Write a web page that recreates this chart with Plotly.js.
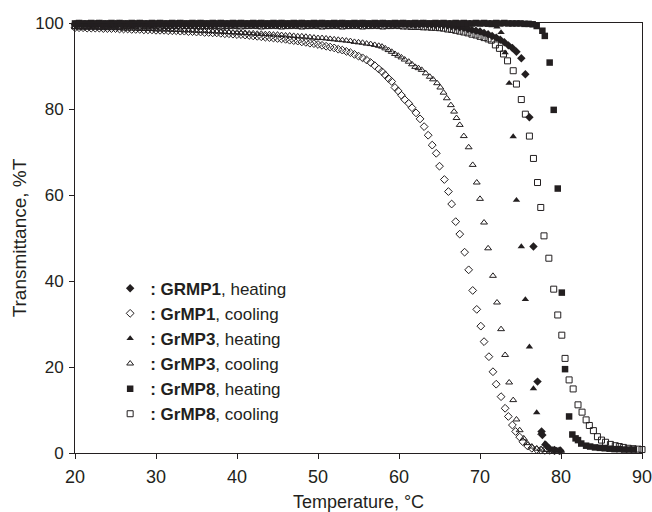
<!DOCTYPE html>
<html>
<head>
<meta charset="utf-8">
<script src="https://cdn.plot.ly/plotly-3.0.1.min.js"></script>
<style>html,body{margin:0;padding:0;background:#fff;}#chart{width:652px;height:512px;}</style>
</head>
<body>
<div id="chart"></div>
<script>
// Shared temperature grid (°C) for the densely sampled plateau region
const gridT = [
20,20.5,21,21.5,22,22.5,23,23.5,24,24.5,
25,25.5,26,26.5,27,27.5,28,28.5,29,29.5,
30,30.5,31,31.5,32,32.5,33,33.5,34,34.5,
35,35.5,36,36.5,37,37.5,38,38.5,39,39.5,
40,40.5,41,41.5,42,42.5,43,43.5,44,44.5,
45,45.5,46,46.5,47,47.5,48,48.5,49,49.5,
50,50.5,51,51.5,52,52.5,53,53.5,54,54.5,
55,55.5,56,56.5,57,57.5,58,58.5,59,59.5,
60,60.5,61,61.5,62,62.5,63,63.5,64,64.5,
65,65.5,66,66.5,67,67.5,68,68.5,69,69.5,
70,70.5,71,71.5,72,72.5,73,73.5,74,74.5,
75,75.5,76];

// GrMP1 heating (filled diamonds)
const gr1HeatPlateauY = [
99.7,99.8,99.7,99.7,99.6,99.7,99.8,99.7,99.7,99.6,
99.7,99.8,99.7,99.7,99.6,99.7,99.8,99.7,99.7,99.6,
99.7,99.8,99.7,99.7,99.6,99.7,99.8,99.7,99.7,99.6,
99.7,99.8,99.7,99.7,99.6,99.7,99.8,99.7,99.7,99.6,
99.7,99.8,99.7,99.7,99.6,99.7,99.8,99.7,99.7,99.6,
99.7,99.8,99.7,99.7,99.6,99.7,99.8,99.7,99.7,99.6,
99.7,99.8,99.7,99.7,99.6,99.7,99.8,99.7,99.7,99.6,
99.7,99.8,99.7,99.7,99.6,99.7,99.8,99.7,99.7,99.6,
99.7,99.8,99.7,99.7,99.6,99.7,99.8,99.7,99.7,99.6,
99.7,99.6,99.5,99.3,99.2,99.0,98.9,98.6,98.4,98.2,
98.0,97.7,97.4,97.0,96.6,96.1,95.5,94.8,94.2];
const gr1HeatTailT = [74.5,75.1,75.6,76.1,76.6,77.1,77.6,77.7,78.1,78.6,79.2,79.9];
const gr1HeatTailY = [93.3,91.8,88.1,78.1,48.0,16.6,5.0,4.2,1.9,1.0,0.7,0.6];

// GrMP1 cooling (open diamonds)
const gr1CoolPlateauY = [
98.9,98.9,98.9,98.8,98.8,98.8,98.8,98.7,98.7,98.7,
98.7,98.6,98.6,98.6,98.5,98.5,98.5,98.4,98.4,98.4,
98.3,98.3,98.3,98.2,98.2,98.2,98.1,98.1,98.0,98.0,
97.9,97.9,97.8,97.8,97.7,97.7,97.6,97.5,97.5,97.4,
97.3,97.3,97.2,97.1,97.0,96.9,96.8,96.7,96.6,96.5,
96.4,96.3,96.2,96.0,95.9,95.8,95.6,95.5,95.3,95.2,
95.0,94.8,94.6,94.4,94.2,93.9,93.7,93.4,93.1,92.7,
92.3,91.9,91.4,90.8,90.1,89.3];
const gr1CoolTailT = [57.9,58.3,58.7,59.1,59.5,59.9,60.3,60.7,61.2,61.6,62.1,62.6,63.1,63.6,64.1,64.6,65.0,65.6,66.1,66.5,67.0,67.5,68.1,68.6,69.1,69.6,70.1,70.5,71.1,71.6,72.0,72.6,73.1,73.5,74.0,74.4,74.9,75.3,75.9,76.4,77.0,77.5,78.0,78.6,79.2,79.8];
const gr1CoolTailY = [88.7,87.9,87.1,86.4,85.0,84.2,83.2,82.2,81.3,80.3,79.1,77.7,75.9,73.9,71.6,69.7,66.7,63.6,60.8,57.9,53.8,50.9,46.7,42.6,37.8,33.4,29.5,25.9,22.4,18.9,16.0,13.1,10.4,8.5,6.5,5.0,3.7,2.6,1.6,1.1,0.8,0.7,0.6,0.6,0.5,0.5];

// GrMP3 heating (filled triangles)
const gr3HeatPlateauY = [
99.6,99.5,99.6,99.6,99.7,99.6,99.5,99.6,99.6,99.7,
99.6,99.5,99.6,99.6,99.7,99.6,99.5,99.6,99.6,99.7,
99.6,99.5,99.6,99.6,99.7,99.6,99.5,99.6,99.6,99.7,
99.6,99.5,99.6,99.6,99.7,99.6,99.5,99.6,99.6,99.7,
99.6,99.5,99.6,99.6,99.7,99.6,99.5,99.6,99.6,99.7,
99.6,99.5,99.6,99.6,99.7,99.6,99.5,99.6,99.6,99.7,
99.6,99.5,99.6,99.6,99.7,99.6,99.5,99.6,99.6,99.7,
99.6,99.5,99.6,99.6,99.7,99.6,99.5,99.6,99.6,99.7,
99.6,99.5,99.6,99.6,99.7,99.6,99.5,99.6,99.6,99.7,
99.6,99.5,99.6,99.6,99.7,99.6,99.5,99.6,99.6,99.7,
99.6,99.6,99.5];
const gr3HeatTailT = [71.5,72.1,72.6,73.1,73.6,74.1,74.5,75.1,75.6,76.1,76.6,77.0,77.5,78.0,78.5,79.0,79.5,80.0];
const gr3HeatTailY = [99.4,99.1,97.8,93.1,86.0,73.6,58.8,48.0,35.7,24.7,15.0,9.4,4.6,2.2,1.3,0.9,0.7,0.6];

// GrMP3 cooling (open triangles)
const gr3CoolPlateauY = [
99.0,99.0,98.9,98.9,98.9,98.9,98.9,98.8,98.8,98.8,
98.8,98.8,98.7,98.7,98.7,98.7,98.6,98.6,98.6,98.6,
98.5,98.5,98.5,98.5,98.4,98.4,98.4,98.3,98.3,98.3,
98.2,98.2,98.2,98.1,98.1,98.0,98.0,97.9,97.9,97.8,
97.8,97.7,97.7,97.6,97.6,97.5,97.5,97.4,97.4,97.3,
97.3,97.2,97.1,97.1,97.0,96.9,96.9,96.8,96.7,96.6,
96.5,96.5,96.4,96.3,96.2,96.1,96.0,95.9,95.8,95.6,
95.5,95.4,95.2,95.1,94.9,94.7];
const gr3CoolTailT = [57.9,58.3,58.7,59.1,59.5,59.9,60.3,60.7,61.2,61.6,62.0,62.4,62.8,63.3,63.8,64.2,64.7,65.1,65.5,65.9,66.4,66.8,67.1,67.5,68.0,68.6,69.1,69.6,70.0,70.5,71.0,71.6,72.1,72.6,73.1,73.6,74.1,74.5,74.9,75.4,75.8,76.4,77.0,77.6,78.2,78.8,79.4,80.0];
const gr3CoolTailY = [94.5,94.1,93.7,93.3,92.8,92.4,92.0,91.5,91.0,90.4,89.8,89.5,89.1,88.3,87.5,86.9,86.0,85.0,83.8,82.5,80.9,79.4,77.9,76.3,73.7,71.1,67.0,62.9,59.1,53.6,47.6,41.2,35.0,28.8,22.8,16.4,12.3,7.8,5.3,3.4,2.3,1.5,1.0,0.8,0.7,0.6,0.6,0.5];

// GrMP8 heating (filled squares)
const gr8HeatPlateauY = [
99.9,100,99.9,99.9,100,99.9,100,99.9,99.9,100,
99.9,100,99.9,99.9,100,99.9,100,99.9,99.9,100,
99.9,100,99.9,99.9,100,99.9,100,99.9,99.9,100,
99.9,100,99.9,99.9,100,99.9,100,99.9,99.9,100,
99.9,100,99.9,99.9,100,99.9,100,99.9,99.9,100,
99.9,100,99.9,99.9,100,99.9,100,99.9,99.9,100,
99.9,100,99.9,99.9,100,99.9,100,99.9,99.9,100,
99.9,100,99.9,99.9,100,99.9,100,99.9,99.9,100,
99.9,100,99.9,99.9,100,99.9,100,99.9,99.9,100,
99.9,100,99.9,99.9,100,99.9,100,99.9,99.9,100,
99.9,100,99.9,99.9,100,99.9,100,99.9,99.9,99.9,
99.9,99.8,99.8];
const gr8HeatTailT = [76.5,77.0,77.7,78.0,78.6,79.1,79.6,80.1,80.5,81.0,81.4,81.8,82.1,82.5,83.1,83.6,84.2,84.8,85.4,86.0,86.6,87.2,87.8,88.4,89.0];
const gr8HeatTailY = [99.7,99.3,98.2,97.0,90.8,79.8,61.5,37.3,19.5,8.5,4.3,3.4,3.0,2.2,1.7,1.5,1.3,1.2,1.1,1.0,0.9,0.9,0.8,0.8,0.8];

// GrMP8 cooling (open squares)
const gr8CoolPlateauY = [
99.4,99.3,99.4,99.4,99.5,99.4,99.3,99.4,99.4,99.5,
99.4,99.3,99.4,99.4,99.5,99.4,99.3,99.4,99.4,99.5,
99.4,99.3,99.4,99.4,99.5,99.4,99.3,99.4,99.4,99.5,
99.4,99.3,99.4,99.4,99.5,99.4,99.3,99.4,99.4,99.5,
99.4,99.3,99.4,99.4,99.5,99.4,99.3,99.4,99.4,99.5,
99.4,99.3,99.4,99.4,99.5,99.4,99.3,99.4,99.4,99.5,
99.4,99.3,99.4,99.4,99.5,99.4,99.3,99.4,99.4,99.5,
99.4,99.3,99.4,99.4,99.5,99.4,99.3,99.4,99.4,99.5,
99.4,99.3,99.3,99.2,99.2,99.2,99.1,99.1,99.0,
99.0,98.9,98.8,98.6,98.5,98.3,98.1,97.9,97.7,97.4,97.2,96.9,96.6,96.3];
const gr8CoolTailT = [71.4,71.9,72.4,72.9,73.4,74.1,74.5,75.1,75.6,76.1,76.6,77.1,77.5,77.9,78.5,79.1,79.6,80.1,80.5,81.0,81.5,82.1,82.6,83.1,83.5,84.0,84.5,85.0,85.5,86.1,86.7,87.2,87.7,88.3,88.9,89.5,90.0];
const gr8CoolTailY = [96.0,94.9,94.1,92.8,91.2,88.9,85.8,82.2,78.8,73.7,68.5,62.9,57.1,50.5,45.3,38.1,32.1,27.4,22.0,17.0,14.9,11.2,9.5,7.7,6.4,5.2,3.8,3.0,2.5,2.0,1.7,1.5,1.3,1.1,1.0,0.9,0.8];

const seriesNames = [
  '<b>: GRMP1</b>, heating', '<b>: GrMP1</b>, cooling',
  '<b>: GrMP3</b>, heating', '<b>: GrMP3</b>, cooling',
  '<b>: GrMP8</b>, heating', '<b>: GrMP8</b>, cooling'];
const xTicks = [20,30,40,50,60,70,80,90];
const yTicks = [0,20,40,60,80,100];

const INK = '#231f20';
const FONT = 'Liberation Sans, Arial, Helvetica, sans-serif';

function makeTrace(name, plateauY, tailT, tailY, symbol, size, open) {
  return {
    type: 'scatter', mode: 'markers', name: name,
    x: gridT.slice(0, plateauY.length).concat(tailT),
    y: plateauY.concat(tailY),
    cliponaxis: false,
    marker: open
      ? {symbol: symbol, size: size, color: INK, line: {color: INK, width: 1}}
      : {symbol: symbol, size: size, color: INK, line: {width: 0}},
    hoverinfo: 'x+y+name'
  };
}

const data = [
  makeTrace(seriesNames[0], gr1HeatPlateauY, gr1HeatTailT, gr1HeatTailY, 'diamond', 6.5, false),
  makeTrace(seriesNames[1], gr1CoolPlateauY, gr1CoolTailT, gr1CoolTailY, 'diamond-open', 6, true),
  makeTrace(seriesNames[2], gr3HeatPlateauY, gr3HeatTailT, gr3HeatTailY, 'triangle-up', 6.5, false),
  makeTrace(seriesNames[3], gr3CoolPlateauY, gr3CoolTailT, gr3CoolTailY, 'triangle-up-open', 6, true),
  makeTrace(seriesNames[4], gr8HeatPlateauY, gr8HeatTailT, gr8HeatTailY, 'square', 6.5, false),
  makeTrace(seriesNames[5], gr8CoolPlateauY, gr8CoolTailT, gr8CoolTailY, 'square-open', 6, true)
];

const axisCommon = {
  showline: true, mirror: true, linecolor: INK, linewidth: 1,
  ticks: 'outside', ticklen: 5, tickwidth: 1, tickcolor: INK,
  showgrid: false, zeroline: false, ticklabeloverflow: 'allow'
};

const layout = {
  width: 652, height: 512,
  margin: {l: 75, r: 10, t: 23, b: 59},
  paper_bgcolor: '#fff', plot_bgcolor: '#fff',
  font: {family: FONT, color: INK},
  showlegend: true,
  legend: {
    x: 0.062, y: 0.424, xanchor: 'left', yanchor: 'top',
    bgcolor: 'rgba(0,0,0,0)', borderwidth: 0,
    font: {family: FONT, size: 17, color: INK},
    tracegroupgap: 0
  },
  xaxis: Object.assign({}, axisCommon, {
    range: [20, 90], tickvals: xTicks,
    tickfont: {family: FONT, size: 18, color: INK},
    ticklabelstandoff: 2,
    title: {text: 'Temperature, °C', font: {family: FONT, size: 18, color: INK}, standoff: 17}
  }),
  yaxis: Object.assign({}, axisCommon, {
    range: [0, 100], tickvals: yTicks,
    tickfont: {family: FONT, size: 17, color: INK},
    ticklabelstandoff: 2,
    title: {text: 'Transmittance, %T', font: {family: FONT, size: 19, color: INK}, standoff: 3}
  })
};

Plotly.newPlot('chart', data, layout, {displayModeBar: false, staticPlot: true});
</script>
</body>
</html>
